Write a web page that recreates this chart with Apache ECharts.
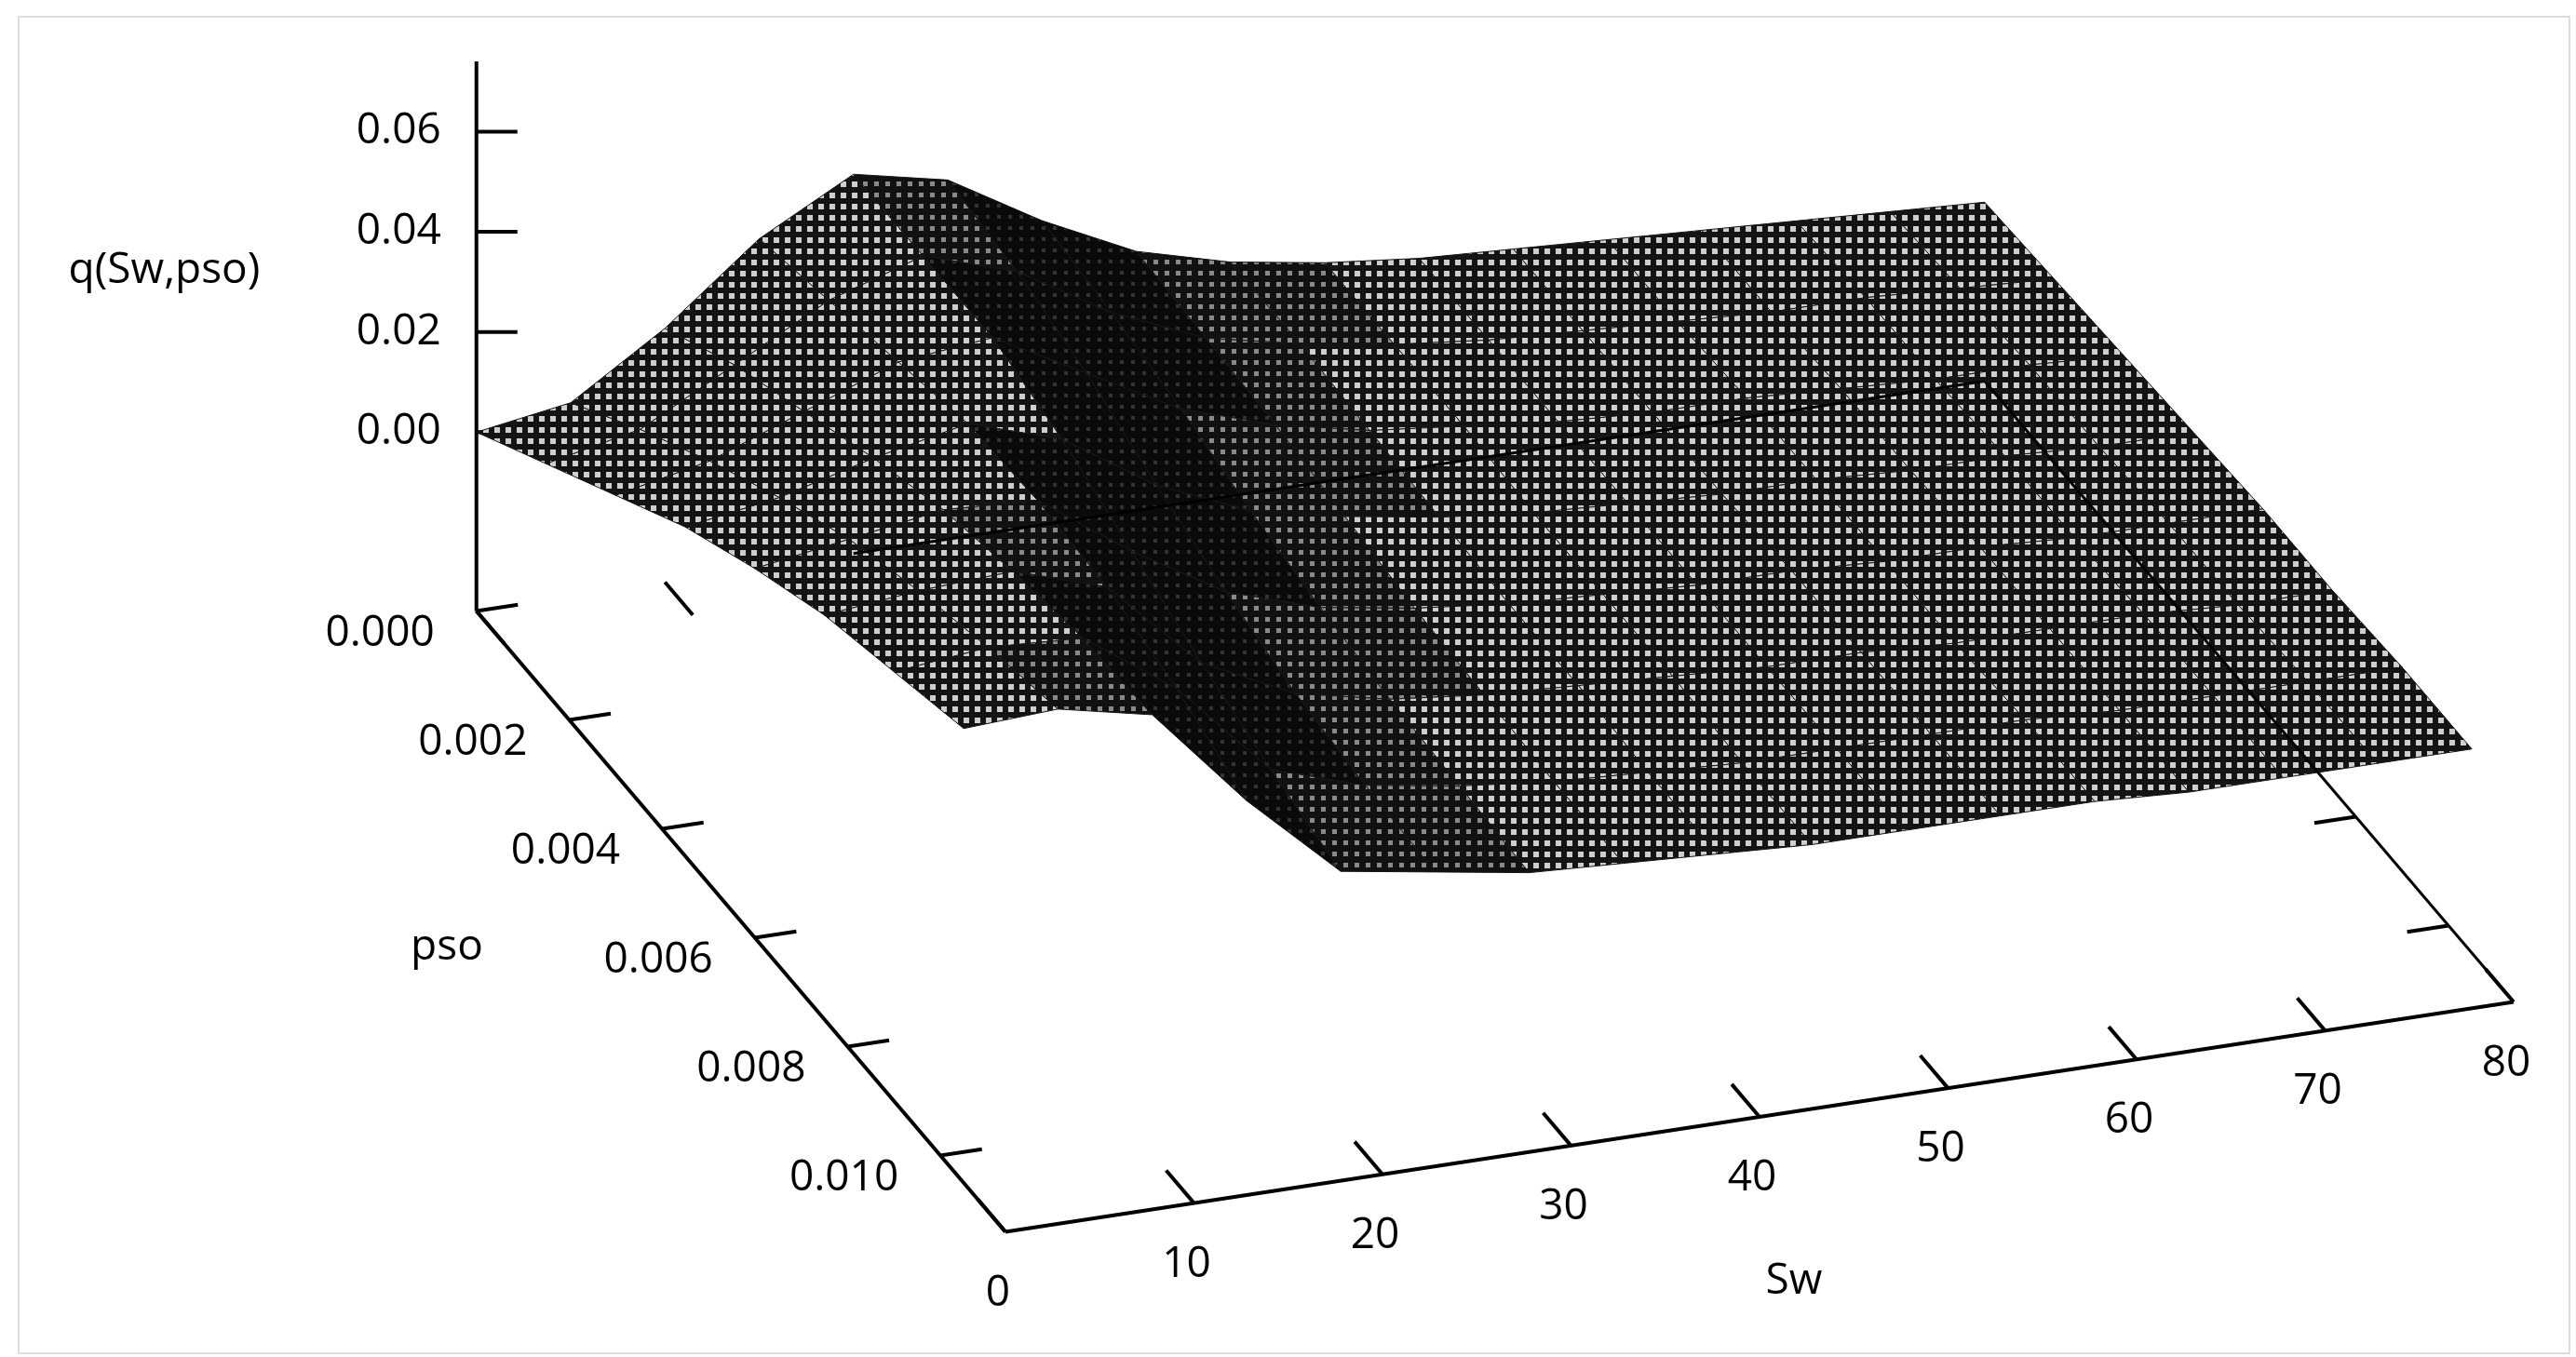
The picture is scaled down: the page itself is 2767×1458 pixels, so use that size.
<!DOCTYPE html>
<html><head><meta charset="utf-8">
<script src="https://cdn.jsdelivr.net/npm/echarts@6/dist/echarts.min.js"></script>
<style>html,body{margin:0;padding:0;background:#fff}#c{width:2767px;height:1458px}</style>
</head><body><div id="c"></div>
<script>
// ---- data ----
const swValues = [0,5,10,15,20,25,30,35,40,45,50,55,60,65,70,75,80];
const psoValues = [0,0.0015,0.003,0.0045,0.006,0.0075,0.009,0.0105];
const qRow0 = [0.000,0.003,0.015,0.030,0.040,0.036,0.025,0.016,0.011,0.008,0.006,0.005,0.004,0.003,0.002,0.001,0.000];
const qRow1 = [0.010,0.014,0.024,0.034,0.040,0.034,0.023,0.015,0.011,0.008,0.006,0.005,0.004,0.003,0.003,0.002,0.001];
const qRow2 = [0.020,0.024,0.031,0.038,0.040,0.030,0.020,0.014,0.010,0.008,0.006,0.005,0.005,0.004,0.003,0.003,0.002];
const qRow3 = [0.030,0.033,0.038,0.042,0.036,0.024,0.016,0.012,0.009,0.007,0.006,0.005,0.005,0.004,0.004,0.003,0.003];
const qRow4 = [0.038,0.041,0.044,0.043,0.030,0.019,0.013,0.010,0.008,0.007,0.006,0.006,0.005,0.005,0.004,0.004,0.004];
const qRow5 = [0.045,0.047,0.048,0.042,0.024,0.015,0.011,0.009,0.008,0.007,0.006,0.006,0.005,0.005,0.005,0.004,0.004];
const qRow6 = [0.050,0.052,0.051,0.038,0.019,0.013,0.010,0.008,0.007,0.006,0.006,0.006,0.006,0.005,0.005,0.005,0.005];
const qRow7 = [0.055,0.056,0.052,0.032,0.015,0.012,0.009,0.008,0.007,0.006,0.006,0.006,0.006,0.005,0.005,0.005,0.005];
const qRows = [qRow0,qRow1,qRow2,qRow3,qRow4,qRow5,qRow6,qRow7];
const swTicks = [0,10,20,30,40,50,60,70,80];
const psoTicks = [0,0.002,0.004,0.006,0.008,0.010];
const psoTickLabels = ['0.000','0.002','0.004','0.006','0.008','0.010'];
const qTicks = [0,0.02,0.04,0.06];
const qTickLabels = ['0.00','0.02','0.04','0.06'];

// ---- projection ----
const K = 2767/1568;
const SW_MAX = 80, PSO_MAX = 0.0114, Z_FLOOR = -0.0357, Z_TOP = 0.074;
function P(sw,p,z){
  const x = 290 + 11.475*sw + 28246*p;
  const y = 372 - 1.75*sw + 33158*p - 3050*(z - Z_FLOOR);
  return [x*K, y*K];
}
function makePat(bg, dot, s){
  const c = document.createElement('canvas'); c.width = 12; c.height = 12;
  const g = c.getContext('2d');
  g.fillStyle = bg; g.fillRect(0,0,12,12);
  g.fillStyle = dot; g.fillRect(3,3,s,s);
  return c;
}
const patLight = makePat('#141414','#cfcfcf',6);
const patMid = makePat('#111','#8a8a8a',5);
const patDark = makePat('#0a0a0a','#333',4);

const quads = [];
for (let r=0;r<psoValues.length-1;r++) for (let c=0;c<swValues.length-1;c++) quads.push([r,c]);

const chart = echarts.init(document.getElementById('c'));
const FONT = '"Open Sans", Lato, sans-serif';
const FS = '46px ';

function line(api,a,b,w){
  const A=api.coord(a), B=api.coord(b);
  return {type:'line', shape:{x1:A[0],y1:A[1],x2:B[0],y2:B[1]}, style:{stroke:'#000', lineWidth:w||4}};
}
function txt(x,y,t,align){
  return {type:'text',x:x,y:y,style:{text:t,fill:'#000',font:FS+FONT,align:align||'center',verticalAlign:'middle'}};
}

chart.setOption({
  animation:false,
  grid:{left:0,right:0,top:0,bottom:0},
  xAxis:{type:'value',min:0,max:2767,show:false},
  yAxis:{type:'value',min:0,max:1458,inverse:true,show:false},
  graphic:[{type:'rect',shape:{x:20,y:18,width:2740,height:1436},style:{fill:'none',stroke:'#ddd',lineWidth:2}}],
  series:[
    {
      type:'custom', data:[0], z:1,
      renderItem:(params,api)=>{
        const ch=[];
        ch.push(line(api,P(0,0,Z_FLOOR),P(0,PSO_MAX,Z_FLOOR)));
        ch.push(line(api,P(0,PSO_MAX,Z_FLOOR),P(SW_MAX,PSO_MAX,Z_FLOOR)));
        ch.push(line(api,P(0,0,Z_FLOOR),P(0,0,Z_TOP)));
        swTicks.forEach(s=>{
          ch.push(line(api,P(s,PSO_MAX,Z_FLOOR),P(s,PSO_MAX-0.0006,Z_FLOOR)));
          ch.push(line(api,P(s,0,Z_FLOOR),P(s,0.0006,Z_FLOOR)));
          const L=api.coord(P(s,PSO_MAX,Z_FLOOR));
          ch.push(txt(L[0]-8,L[1]+66,String(s)));
        });
        psoTicks.forEach((p,i)=>{
          ch.push(line(api,P(0,p,Z_FLOOR),P(2.2,p,Z_FLOOR)));
          ch.push(line(api,P(SW_MAX,p,Z_FLOOR),P(SW_MAX-2.2,p,Z_FLOOR)));
          const L=api.coord(P(0,p,Z_FLOOR));
          ch.push(txt(L[0]-45,L[1]+24,psoTickLabels[i],'right'));
        });
        qTicks.forEach((q,i)=>{
          const A=api.coord(P(0,0,q));
          ch.push({type:'line',shape:{x1:A[0],y1:A[1],x2:A[0]+44,y2:A[1]},style:{stroke:'#000',lineWidth:4}});
          ch.push(txt(A[0]-38,A[1],qTickLabels[i],'right'));
        });
        ch.push(txt(100*K,165*K,'q(Sw,pso)'));
        ch.push(txt(272*K,577*K,'pso'));
        ch.push(txt(1092*K,780*K,'Sw'));
        return {type:'group',children:ch};
      }
    },
    {
      type:'custom', data:quads, z:2,
      renderItem:(params,api)=>{
        const r=quads[params.dataIndex][0], c=quads[params.dataIndex][1];
        const dq = (qRows[r][c+1]+qRows[r+1][c+1]) - (qRows[r][c]+qRows[r+1][c]);
        const pat = dq < -0.012 ? patDark : (dq < -0.005 ? patMid : patLight);
        const pts=[[r,c],[r,c+1],[r+1,c+1],[r+1,c]].map(([i,j])=>api.coord(P(swValues[j],psoValues[i],qRows[i][j])));
        return {type:'polygon',shape:{points:pts},style:{fill:{image:pat,repeat:'repeat'},stroke:'#141414',lineWidth:1}};
      }
    },
    {
      type:'custom', data:[0], z:3,
      renderItem:(params,api)=>({type:'group',children:[
        line(api,P(20,0,Z_FLOOR),P(SW_MAX,0,Z_FLOOR),3),
        line(api,P(SW_MAX,0,Z_FLOOR),P(SW_MAX,PSO_MAX,Z_FLOOR),3)
      ]})
    }
  ]
});
</script></body></html>
